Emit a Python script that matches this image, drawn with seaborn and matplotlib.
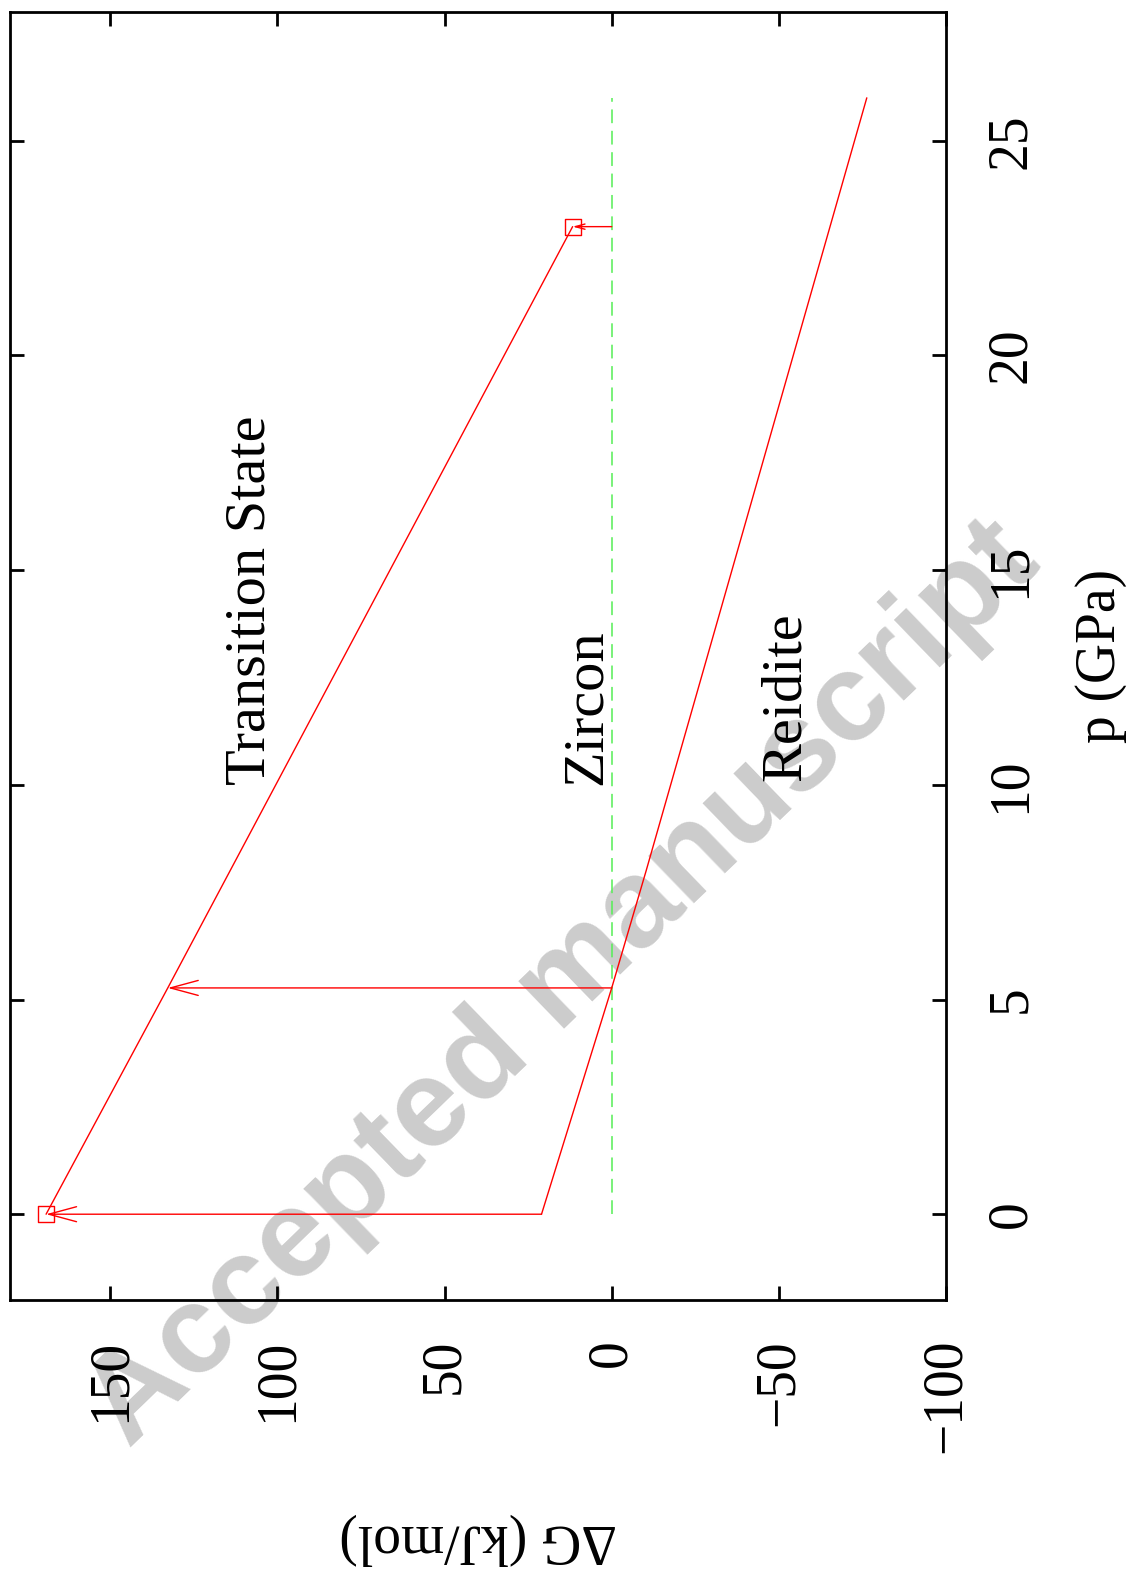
import matplotlib
matplotlib.use("Agg")
import matplotlib.pyplot as plt
import seaborn as sns
import pandas as pd
import numpy as np

p_reidite = [0, 5.27, 8.0, 26.0]
dg_reidite = [21.0, 0.0, -10.3, -76.3]

p_ts = [0, 5.27, 23.0]
dg_ts = [169.2, 132.8, 11.7]

p_zircon = [0, 26.0]
dg_zircon = [0, 0]

# arrows: pressure, start dG (zircon/reidite), end dG (transition state)
arrow_p = [0, 5.27, 23.0]
arrow_from = [21.0, 0.0, 0.0]
arrow_to = [169.2, 132.8, 11.7]
arrow_scale = [20, 20, 7]

# squares marking the end points of the transition state curve
sq_p = [0, 23.0]
sq_dg = [169.2, 11.7]

x_ticks = [150, 100, 50, 0, -50, -100]
y_ticks = [0, 5, 10, 15, 20, 25]

labels = ["Transition State", "Zircon", "Reidite"]
label_dg = [108, 7.5, -52]
label_p = [14.3, 11.8, 12.05]

sns.set_style("ticks")
plt.rcParams['font.family'] = ['Liberation Serif', 'DejaVu Serif']
plt.rcParams['font.size'] = 40
plt.rcParams['text.color'] = 'black'
plt.rcParams['axes.labelcolor'] = 'black'
plt.rcParams['xtick.color'] = 'black'
plt.rcParams['ytick.color'] = 'black'

fig, ax = plt.subplots(figsize=(11.35, 15.73), dpi=100)
fig.subplots_adjust(left=0.0088, right=0.8335, bottom=0.1735, top=0.9924)
ax.set_facecolor('none')

# watermark behind everything
fig.text(0.497, 0.374, "Accepted manuscript", rotation=44, ha='center', va='center',
         fontsize=90, fontweight='bold', color='#cccccc', family='Liberation Sans',
         zorder=-5)

df_r = pd.DataFrame({'p': p_reidite, 'dG': dg_reidite})
df_t = pd.DataFrame({'p': p_ts, 'dG': dg_ts})
df_z = pd.DataFrame({'p': p_zircon, 'dG': dg_zircon})

sns.lineplot(data=df_z, x='dG', y='p', orient='y', sort=False, ax=ax,
             color='#55ee55', lw=1.1, dashes=False, linestyle=(0, (9, 5)))
sns.lineplot(data=df_r, x='dG', y='p', orient='y', sort=False, ax=ax,
             color='red', lw=1.0)
sns.lineplot(data=df_t, x='dG', y='p', orient='y', sort=False, ax=ax,
             color='red', lw=1.0)

for p, a, b, ms in zip(arrow_p, arrow_from, arrow_to, arrow_scale):
    ax.annotate('', xy=(b, p), xytext=(a, p),
                arrowprops=dict(arrowstyle='->,head_length=1.0,head_width=0.27',
                                color='red', lw=1.0, shrinkA=0, shrinkB=0,
                                mutation_scale=ms))

sns.scatterplot(x=sq_dg, y=sq_p, ax=ax, marker='s', s=130,
                facecolors='none', edgecolor='red', linewidth=1.0, zorder=5)

for t, x, y in zip(labels, label_dg, label_p):
    ax.text(x, y, t, rotation=90, ha='center', va='center', fontsize=42)

ax.set_xlim(180, -100)
ax.set_ylim(-2, 28)
ax.set_xticks(x_ticks)
ax.set_yticks(y_ticks)

ax.tick_params(axis='both', direction='in', length=10, width=2, color='black')
ax.tick_params(axis='x', top=True, bottom=True, pad=28, labelsize=40)
ax.tick_params(axis='y', left=True, right=True, labelleft=False, labelright=True,
               pad=28, labelsize=40)
for lab in ax.get_xticklabels():
    lab.set_rotation(90)
    lab.set_va('top')
    lab.set_ha('center')
for lab in ax.get_yticklabels():
    lab.set_rotation(90)
    lab.set_va('center')
    lab.set_ha('left')

for s in ax.spines.values():
    s.set_linewidth(2)
    s.set_color('black')

ax.set_xlabel("ΔG (kJ/mol)", rotation=180, fontsize=40)
ax.xaxis.label.set_va('center')
ax.xaxis.set_label_coords(0.5, -0.1856)

ax.yaxis.set_label_position('right')
ax.set_ylabel("p (GPa)", fontsize=40)
ylab = ax.yaxis.label
ylab.set_rotation(90)
ylab.set_rotation_mode('anchor')
ylab.set_ha('center')
ylab.set_va('center')
ax.yaxis.set_label_coords(1.1656, 0.5)

fig.savefig("out.png", dpi=100)
